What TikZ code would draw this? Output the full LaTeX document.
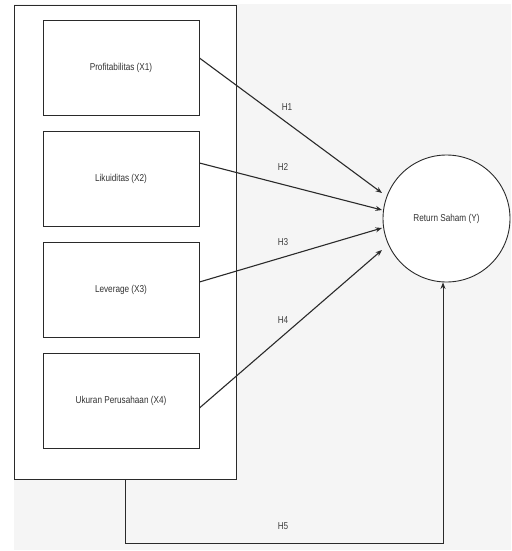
\documentclass[tikz,border=0pt]{standalone}
\usepackage{fontspec}
\setmainfont{Liberation Sans}
\usetikzlibrary{arrows.meta}
\definecolor{bggray}{HTML}{F5F5F5}
\definecolor{linegray}{HTML}{2A2A2A}
\newcommand{\condtxt}[1]{\scalebox{0.82}[1]{\fontsize{10}{11}\selectfont #1}}
\tikzset{
  varbox/.style={draw=linegray, fill=white, line width=0.9pt, minimum width=156pt, minimum height=95pt, inner sep=0pt, text=black!80},
  outerbox/.style={draw=linegray, fill=white, line width=0.9pt, minimum width=222pt, minimum height=474pt, inner sep=0pt},
  latent/.style={draw=linegray, fill=white, line width=0.9pt, circle, minimum size=127pt, inner sep=0pt, text=black!80},
  hyparrow/.style={draw=linegray, line width=1.1pt, -{Stealth[length=6.5pt,width=5pt]}},
  hyplabel/.style={text=black!75, inner sep=0pt}
}
\begin{document}
\begin{tikzpicture}[x=1pt,y=-1pt]
\useasboundingbox (0,0) rectangle (511,551);
\fill[bggray] (14,4) rectangle (511,550);
\node[outerbox] (outer) at (125,242) {};
\node[varbox] (x1) at (121,68) {\condtxt{Profitabilitas (X1)}};
\node[varbox] (x2) at (121,179) {\condtxt{Likuiditas (X2)}};
\node[varbox] (x3) at (121,289.5) {\condtxt{Leverage (X3)}};
\node[varbox] (x4) at (121,400.5) {\condtxt{Ukuran Perusahaan (X4)}};
\node[latent] (y) at (446.5,218.5) {\condtxt{Return Saham (Y)}};
\coordinate (e1) at (382,193);
\coordinate (e2) at (382,210);
\coordinate (e3) at (382,228);
\coordinate (e4) at (382,250);
\coordinate (bend1) at (125,543);
\coordinate (bend2) at (443,543);
\draw[hyparrow] (x1.east |- 0,58) -- (e1);
\draw[hyparrow] (x2.east |- 0,163) -- (e2);
\draw[hyparrow] (x3.east |- 0,282) -- (e3);
\draw[hyparrow] (x4.east |- 0,408) -- (e4);
\draw[hyparrow, line width=0.9pt] (outer.south) -- (bend1) -- (bend2) -- (y.south -| bend2);
\node[hyplabel] (h1) at (287,107) {\condtxt{H1}};
\node[hyplabel] (h2) at (283,167) {\condtxt{H2}};
\node[hyplabel] (h3) at (283,242) {\condtxt{H3}};
\node[hyplabel] (h4) at (283,320) {\condtxt{H4}};
\node[hyplabel] (h5) at (283,526) {\condtxt{H5}};
\end{tikzpicture}
\end{document}
